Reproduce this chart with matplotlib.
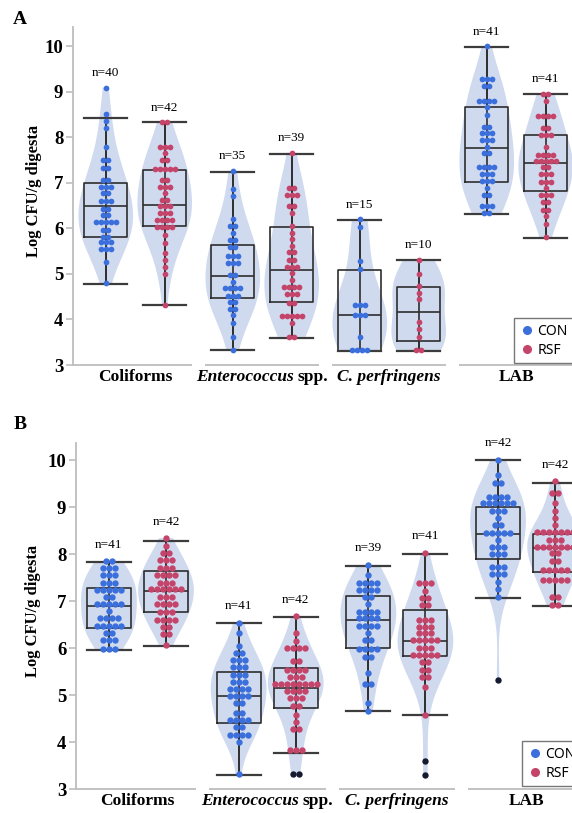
import matplotlib
matplotlib.use("Agg")
import matplotlib.pyplot as plt
from matplotlib.lines import Line2D
import numpy as np

plt.rcParams['font.family'] = ['Liberation Serif', 'DejaVu Serif']

# ---------------- data: panel A ----------------
a_coli_con = [9.09, 8.51, 8.36, 8.20, 7.78, 7.49, 7.49, 7.32, 7.32, 7.06, 7.06,
              6.91, 6.91, 6.91, 6.77, 6.77, 6.60, 6.60, 6.60, 6.43, 6.43, 6.29, 6.29,
              6.13, 6.13, 6.13, 6.13, 6.13, 5.96, 5.96, 5.82, 5.82, 5.69, 5.69, 5.69,
              5.54, 5.54, 5.54, 5.27, 4.80]
a_coli_rsf = [8.33, 8.33, 7.79, 7.79, 7.79, 7.65, 7.50, 7.50, 7.30, 7.30, 7.30, 7.30, 7.30,
              7.06, 7.06, 6.91, 6.91, 6.91, 6.77, 6.62, 6.62, 6.48, 6.48, 6.48,
              6.33, 6.33, 6.33, 6.18, 6.18, 6.18, 6.18, 6.04, 6.04, 6.04, 6.04,
              5.86, 5.67, 5.45, 5.31, 5.16, 5.00, 4.31]
a_ent_con = [7.26, 6.86, 6.71, 6.20, 6.05, 6.05, 5.89, 5.75, 5.75, 5.59, 5.59,
             5.39, 5.39, 5.39, 5.25, 5.25, 5.25, 4.98, 4.98, 4.83, 4.69, 4.69, 4.69, 4.69,
             4.52, 4.52, 4.52, 4.38, 4.38, 4.23, 4.23, 4.09, 3.92, 3.62, 3.33]
a_ent_rsf = [7.66, 6.88, 6.88, 6.73, 6.73, 6.73, 6.48, 6.48, 6.33, 6.05, 5.89, 5.76, 5.61,
             5.47, 5.47, 5.31, 5.31, 5.16, 5.16, 5.16, 5.01, 4.87, 4.72, 4.72, 4.72, 4.72,
             4.56, 4.56, 4.56, 4.36, 4.36, 4.08, 4.08, 4.08, 4.08, 4.08, 3.92, 3.62, 3.62]
a_cp_con = [6.20, 6.02, 5.29, 5.10, 4.32, 4.32, 4.32, 4.10, 4.10, 4.10, 3.62,
            3.33, 3.33, 3.33, 3.33]
a_cp_rsf = [5.31, 5.00, 4.74, 4.59, 4.45, 3.95, 3.79, 3.62, 3.32, 3.32]
a_lab_con = [10.0, 9.27, 9.27, 9.27, 9.12, 9.12, 8.80, 8.80, 8.80, 8.80, 8.66, 8.48,
             8.23, 8.23, 8.09, 8.09, 8.09, 7.94, 7.94, 7.94, 7.79, 7.65, 7.65,
             7.35, 7.35, 7.35, 7.35, 7.19, 7.19, 7.19, 7.04, 7.04, 7.04, 6.88,
             6.73, 6.73, 6.49, 6.49, 6.49, 6.34, 6.34]
a_lab_rsf = [8.94, 8.94, 8.79, 8.47, 8.47, 8.47, 8.47, 8.20, 8.20, 8.05, 8.05, 8.05, 7.78,
             7.62, 7.62, 7.62, 7.62, 7.48, 7.48, 7.48, 7.48, 7.48, 7.34, 7.34,
             7.19, 7.19, 7.19, 7.02, 7.02, 7.02, 6.88, 6.73, 6.73, 6.73, 6.57, 6.57,
             6.40, 6.40, 6.26, 6.09, 5.80]

a_q1 = [5.80, 6.06, 4.47, 4.39, 3.31, 3.53, 7.02, 6.83]
a_med = [6.48, 6.51, 4.96, 5.09, 4.09, 4.16, 7.76, 7.44]
a_q3 = [7.00, 7.27, 5.64, 6.04, 5.09, 4.71, 8.67, 8.05]
a_lo = [4.78, 4.31, 3.32, 3.60, 3.31, 3.31, 6.32, 5.79]
a_hi = [8.42, 8.33, 7.24, 7.63, 6.18, 5.31, 9.98, 8.95]
a_n = [40, 42, 35, 39, 15, 10, 41, 41]

# ---------------- data: panel B ----------------
b_coli_con = [7.85, 7.85, 7.71, 7.71, 7.71, 7.56, 7.56, 7.56, 7.39, 7.39, 7.39,
              7.24, 7.24, 7.24, 7.24, 7.24, 7.08, 7.08, 6.94, 6.94, 6.94, 6.94, 6.94,
              6.79, 6.64, 6.64, 6.64, 6.64, 6.48, 6.48, 6.48, 6.48, 6.48,
              6.32, 6.32, 6.17, 6.17, 6.17, 5.98, 5.98, 5.98]
b_coli_rsf = [8.34, 8.17, 8.02, 8.02, 7.87, 7.87, 7.87, 7.71, 7.71, 7.71,
              7.56, 7.56, 7.56, 7.56, 7.39, 7.39, 7.39, 7.25, 7.25, 7.25, 7.25, 7.25, 7.25,
              7.09, 7.09, 7.09, 6.94, 6.94, 6.94, 6.94, 6.78, 6.78, 6.78,
              6.61, 6.61, 6.61, 6.61, 6.46, 6.46, 6.30, 6.30, 6.07]
b_ent_con = [6.54, 6.32, 6.05, 5.90, 5.90, 5.75, 5.75, 5.75, 5.59, 5.59, 5.59,
             5.43, 5.43, 5.43, 5.29, 5.29, 5.29, 5.13, 5.13, 5.13, 5.13,
             4.98, 4.98, 4.98, 4.98, 4.83, 4.83, 4.63, 4.63, 4.47, 4.47, 4.47, 4.47,
             4.32, 4.32, 4.16, 4.16, 4.16, 4.16, 4.01, 3.32]
b_ent_rsf = [6.68, 6.33, 6.15, 6.00, 6.00, 6.00, 6.00, 5.73, 5.73, 5.54, 5.54, 5.54, 5.54,
             5.38, 5.38, 5.38, 5.23, 5.23, 5.23, 5.23, 5.23, 5.23, 5.23, 5.23,
             5.08, 5.08, 5.08, 5.08, 4.94, 4.94, 4.94, 4.78, 4.78, 4.58, 4.43,
             4.28, 4.28, 3.84, 3.84, 3.84]
b_cp_con = [7.77, 7.56, 7.39, 7.39, 7.39, 7.39, 7.24, 7.24, 7.24, 7.24, 7.08, 7.08, 6.94,
            6.78, 6.78, 6.78, 6.78, 6.64, 6.64, 6.64, 6.64, 6.48, 6.48, 6.48, 6.48,
            6.33, 6.17, 6.17, 5.98, 5.98, 5.98, 5.98, 5.82, 5.82, 5.47, 5.23, 5.23,
            4.83, 4.67]
b_cp_rsf = [8.03, 7.38, 7.38, 7.38, 7.22, 7.07, 7.07, 6.92, 6.92, 6.61, 6.61, 6.61,
            6.46, 6.46, 6.46, 6.32, 6.32, 6.32, 6.17, 6.17, 6.17, 6.17, 6.17,
            6.01, 6.01, 6.01, 5.86, 5.86, 5.86, 5.86, 5.86, 5.70, 5.70, 5.54, 5.54,
            5.39, 5.39, 5.18, 4.58]
b_lab_con = [10.0, 9.68, 9.52, 9.52, 9.22, 9.22, 9.22, 9.22, 9.08, 9.08, 9.08, 9.08, 9.08, 9.08,
             8.92, 8.92, 8.92, 8.77, 8.62, 8.62, 8.46, 8.46, 8.46, 8.46, 8.46, 8.31,
             8.16, 8.16, 8.16, 8.00, 8.00, 8.00, 7.73, 7.73, 7.73, 7.57, 7.57, 7.57,
             7.41, 7.26, 7.09]
b_lab_rsf = [9.55, 9.31, 9.31, 9.08, 8.92, 8.76, 8.62, 8.48, 8.48, 8.48, 8.48, 8.48, 8.48, 8.48,
             8.31, 8.31, 8.31, 8.16, 8.16, 8.16, 8.16, 8.16, 8.16, 8.16, 8.02, 8.02,
             7.86, 7.86, 7.66, 7.66, 7.66, 7.66, 7.66, 7.46, 7.46, 7.46, 7.46, 7.46,
             7.08, 7.08, 6.92, 6.92]
# outliers (dark points) per group, same order as the boxes
b_out = [[], [], [], [3.32, 3.32], [], [3.61, 3.30], [5.32], []]

b_q1 = [6.44, 6.76, 4.42, 4.72, 6.00, 5.83, 7.89, 7.63]
b_med = [6.89, 7.22, 4.99, 5.16, 6.61, 6.16, 8.43, 8.14]
b_q3 = [7.29, 7.65, 5.50, 5.57, 7.11, 6.81, 9.01, 8.42]
b_lo = [5.96, 6.05, 3.30, 3.78, 4.67, 4.57, 7.07, 6.90]
b_hi = [7.83, 8.29, 6.54, 6.67, 7.75, 8.00, 10.0, 9.52]
b_n = [41, 42, 41, 42, 39, 41, 42, 42]

groups = ['CON', 'RSF']
blue = '#3b6fdc'
red = '#c4446a'
dark = '#161a30'
grey = '#bdbdbd'
line_c = '#2e2e2e'


def swarm_x(vals, center, step):
    vals = np.asarray(vals, dtype=float)
    xs = np.empty(len(vals))
    for v in np.unique(vals):
        idx = np.where(vals == v)[0]
        k = len(idx)
        xs[idx] = center + (np.arange(k) - (k - 1) / 2) * step
    return xs


def draw_panel(ax, data, outs, q1, med, q3, lo, hi, ns, off, step, s, ytop, noff):
    pos = []
    for i in range(4):
        pos += [i - off, i + off]
    full = [list(d) + list(o) for d, o in zip(data, outs)]

    parts = ax.violinplot(full, positions=pos, widths=0.43, showextrema=False,
                          bw_method=0.62)
    for b in parts['bodies']:
        b.set_facecolor('#d0daef')
        b.set_edgecolor('none')
        b.set_alpha(1)
        b.set_zorder(1)

    stats = [dict(q1=q1[k], med=med[k], q3=q3[k], whislo=lo[k], whishi=hi[k], fliers=[])
             for k in range(8)]
    ax.bxp(stats, positions=pos, widths=0.34, capwidths=0.34, showfliers=False,
           manage_ticks=False,
           boxprops=dict(color=line_c, lw=1.2, zorder=2),
           medianprops=dict(color=line_c, lw=1.2, zorder=2),
           whiskerprops=dict(color=line_c, lw=1.2, zorder=2),
           capprops=dict(color='#3c3c3c', lw=1.6, zorder=2))
    ax.vlines(pos, lo, hi, color=line_c, lw=1.2, zorder=2)

    for k in range(8):
        c = blue if k % 2 == 0 else red
        ax.scatter(swarm_x(data[k], pos[k], step), data[k], s=s, color=c,
                   linewidths=0, zorder=3, clip_on=False)
        if outs[k]:
            ax.scatter(swarm_x(outs[k], pos[k], step), outs[k], s=s, color=dark,
                       linewidths=0, zorder=3)
        top = max(hi[k], max(data[k]))
        ax.annotate(f'n={ns[k]}', xy=(pos[k], top), xytext=(0, noff),
                    textcoords='offset points', ha='center', va='center', fontsize=9.5)

    ax.set_ylim(3, ytop)
    ax.set_yticks(range(3, 11))
    ax.set_yticklabels([str(v) for v in range(3, 11)], fontsize=13.5, fontweight='bold')
    for sp in ['top', 'right', 'bottom']:
        ax.spines[sp].set_visible(False)
    ax.spines['left'].set_color(grey)
    ax.spines['left'].set_linewidth(1.3)
    ax.tick_params(axis='y', length=5, width=1.2, color=grey, pad=2)
    ax.set_xticks([])
    x0 = ax.get_xlim()[0]
    for i in range(4):
        ax.hlines(3, x0 if i == 0 else i - 0.45, i + 0.45, color=grey, lw=1.3, clip_on=False)
    ax.set_ylabel('Log CFU/g digesta', fontsize=12, fontweight='bold')

    kw = dict(xycoords=('data', 'axes fraction'), textcoords='offset points',
              va='top', fontsize=12.5, fontweight='bold')
    ax.annotate('Coliforms', xy=(0, 0), xytext=(0, -3), ha='center', **kw)
    t1 = ax.annotate('Enterococcus', xy=(1, 0), xytext=(0, -3), ha='left',
                     style='italic', **kw)
    t2 = ax.annotate('spp.', xy=(1, 0), xycoords=t1, xytext=(3, 0),
                     textcoords='offset points', ha='left', va='bottom',
                     fontsize=12.5, fontweight='bold')
    ax.annotate('C. perfringens', xy=(2, 0), xytext=(0, -3), ha='center',
                style='italic', **kw)
    ax.annotate('LAB', xy=(3, 0), xytext=(0, -3), ha='center', **kw)
    return t1, t2


fig = plt.figure(figsize=(5.72, 8.13), dpi=100)
W, H = 572.0, 813.0

axA = fig.add_axes([73 / W, 1 - 365 / H, 4.09 * 127 / W, 338 / H])
axA.set_xlim(-0.49, 3.6)
axB = fig.add_axes([76 / W, 1 - 789.3 / H, 4.074 * 129.7 / W, 346.6 / H])
axB.set_xlim(-0.474, 3.6)

dataA = [a_coli_con, a_coli_rsf, a_ent_con, a_ent_rsf, a_cp_con, a_cp_rsf, a_lab_con, a_lab_rsf]
dataB = [b_coli_con, b_coli_rsf, b_ent_con, b_ent_rsf, b_cp_con, b_cp_rsf, b_lab_con, b_lab_rsf]

tA = draw_panel(axA, dataA, [[]] * 8, a_q1, a_med, a_q3, a_lo, a_hi, a_n,
                0.232, 0.039, 17, 10.42, 10.5)
tB = draw_panel(axB, dataB, b_out, b_q1, b_med, b_q3, b_lo, b_hi, b_n,
                0.22, 0.046, 21, 10.37, 12)
axA.yaxis.set_label_coords(-0.0606, 0.516)
axB.yaxis.set_label_coords(-0.0653, 0.515)

# centre the two-part "Enterococcus spp." labels
fig.canvas.draw()
r = fig.canvas.get_renderer()
for t1, t2 in [tA, tB]:
    w = t1.get_window_extent(r).width + t2.get_window_extent(r).width + 3 * fig.dpi / 72
    t1.xyann = (-w / 2 * 72 / fig.dpi, -3)

fig.text(20 / W, 1 - 19 / H, 'A', fontsize=14, fontweight='bold', ha='center', va='center')
fig.text(20.5 / W, 1 - 424.5 / H, 'B', fontsize=14, fontweight='bold', ha='center', va='center')

handles = [Line2D([], [], marker='o', ls='none', color=c, markersize=5.5, label=g)
           for c, g in zip([blue, red], groups)]
for ax, (lx, ly) in [(axA, (514, 318)), (axB, (522, 741))]:
    ax.legend(handles=handles, loc='upper left', bbox_to_anchor=(lx / W, 1 - ly / H),
              bbox_transform=fig.transFigure, fancybox=False, edgecolor='#555555',
              prop={'family': 'Noto Sans', 'size': 10}, handletextpad=0.3,
              borderpad=0.4, labelspacing=0.3, handlelength=1.0, borderaxespad=0)

fig.savefig('out.png', dpi=100)
